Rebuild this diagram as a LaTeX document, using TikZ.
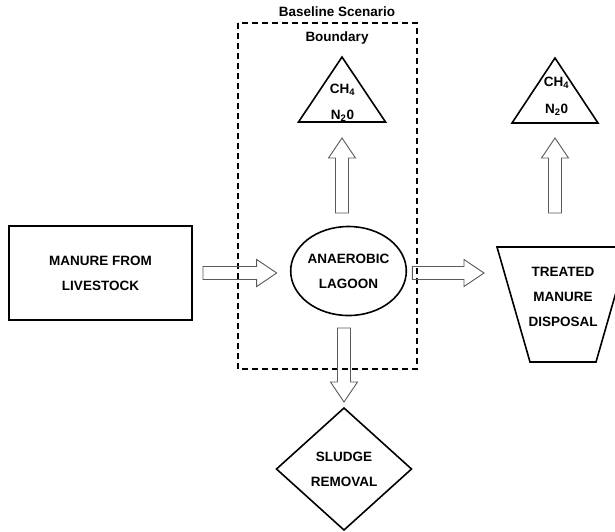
\documentclass[tikz,border=0pt]{standalone}
\usepackage{fontspec}
\setmainfont{Liberation Sans}
\usetikzlibrary{positioning, calc, shapes.geometric, arrows.meta}

\tikzset{
    box/.style={draw, line width=1.6pt, align=center, inner sep=0pt, outer sep=0pt},
    lbl/.style={align=center, inner sep=0pt},
    boundary/.style={line width=1.3pt, dash pattern=on 6pt off 4pt},
    % hollow block arrow between two points, #1 / #2 = gaps at both ends
    flow/.style 2 args={draw=black!65, line width=0.9pt, line join=miter,
        to path={let \p1=($(\tikztostart)!#1pt!(\tikztotarget)$),
                     \p2=($(\tikztotarget)!#2pt!(\tikztostart)$) in
            ($(\p1)!6.5pt!90:(\p2)$)
            -- ($($(\p2)!20pt!(\p1)$)!6.5pt!90:(\p2)$)
            -- ($($(\p2)!20pt!(\p1)$)!13.5pt!90:(\p2)$)
            -- (\p2)
            -- ($($(\p2)!20pt!(\p1)$)!13.5pt!-90:(\p2)$)
            -- ($($(\p2)!20pt!(\p1)$)!6.5pt!-90:(\p2)$)
            -- ($(\p1)!6.5pt!-90:(\p2)$) -- cycle}}
}

\begin{document}
\begin{tikzpicture}[x=1pt, y=-1pt, font=\fontsize{13.5}{25}\selectfont\bfseries]

\clip (0,0) rectangle (615,531);

% boundary of the baseline scenario
\draw[boundary] (238,23) rectangle (417,369);
\node[lbl] (bound) at (337,25.5) {Baseline Scenario\\Boundary};

% main boxes
\node[box, minimum width=183, minimum height=94] (manure) at (100.5,273) {MANURE FROM\\LIVESTOCK};
\node[box, ellipse, minimum width=113, minimum height=89] (lagoon) at (348.5,271) {ANAEROBIC\\LAGOON};
\node[box, diamond, minimum width=135, minimum height=122] (sludge) at (344,469) {SLUDGE\\REMOVAL};

% disposal (upside-down trapezoid, runs off the right edge)
\draw[line width=1.6pt, line join=miter] (497,247) -- (629,247) -- (596,362) -- (530,362) -- cycle;
\coordinate (disptop) at (563,247);
\coordinate (dispwest) at (505,273);
\node[lbl] (disposal) at (563,297) {TREATED\\MANURE\\DISPOSAL};

% emissions
\node[box, isosceles triangle, isosceles triangle stretches, shape border rotate=90,
      minimum width=87, minimum height=65, anchor=lower side] (tri1) at (342,122) {};
\node[lbl] (ch4a) at (342.5,90) {CH\textsubscript{4}};
\node[lbl] (n2oa) at (342.5,116) {N\textsubscript{2}0};
\node[box, isosceles triangle, isosceles triangle stretches, shape border rotate=90,
      minimum width=86, minimum height=65, anchor=lower side] (tri2) at (555,123) {};
\node[lbl] (ch4b) at (556.5,83) {CH\textsubscript{4}};
\node[lbl] (n2ob) at (556.5,110) {N\textsubscript{2}0};

% flows
\draw[flow={11}{14}] (manure.east) to (manure.east -| lagoon.west);
\draw[flow={6}{21}] (lagoon.east |- manure.east) to (manure.east -| dispwest);
\draw[flow={13.5}{16}] (lagoon.north -| tri1.lower side) to (tri1.lower side);
\draw[flow={34}{15}] (disptop -| tri2.lower side) to (tri2.lower side);
\draw[flow={12.5}{6}] (lagoon.south -| sludge.north) to (sludge.north);

\end{tikzpicture}
\end{document}
